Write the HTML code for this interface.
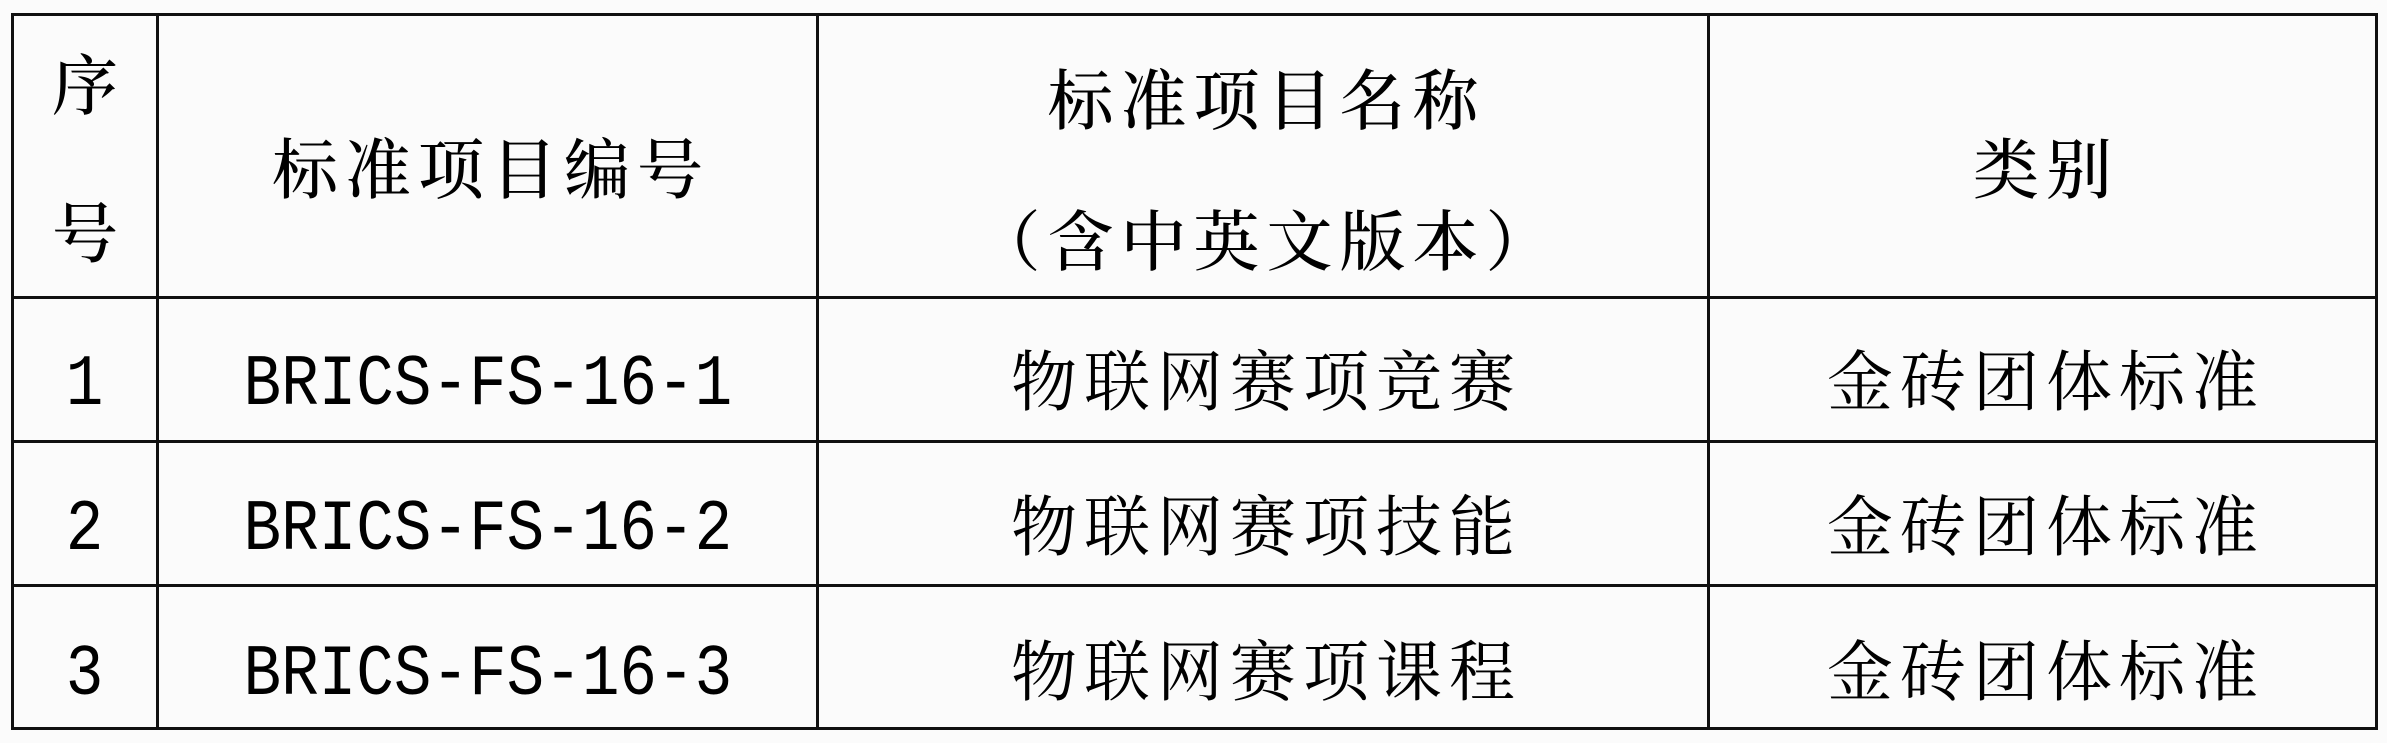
<!DOCTYPE html>
<html><head><meta charset="utf-8"><style>
body{margin:0;width:2387px;height:743px;background:#fbfbfb;position:relative;overflow:hidden}
.l{position:absolute;background:#111}
.t{position:absolute;text-align:center;white-space:nowrap;font-family:"Liberation Serif","Noto Serif CJK SC",serif;font-size:66px;letter-spacing:7px;line-height:70px;color:#000;padding-left:7px;box-sizing:border-box}
.h{font-weight:500}
.m span{display:inline-block;font-family:"Liberation Mono",monospace;font-size:72px;letter-spacing:0;transform:scale(0.87,1)}
</style></head><body>
<div class="l" style="left:11px;top:13px;width:2367px;height:3px"></div>
<div class="l" style="left:11px;top:296px;width:2367px;height:3px"></div>
<div class="l" style="left:11px;top:440px;width:2367px;height:3px"></div>
<div class="l" style="left:11px;top:584px;width:2367px;height:3px"></div>
<div class="l" style="left:11px;top:727px;width:2367px;height:3px"></div>
<div class="l" style="left:11px;top:13px;width:3px;height:717px"></div>
<div class="l" style="left:156px;top:13px;width:3px;height:717px"></div>
<div class="l" style="left:816px;top:13px;width:3px;height:717px"></div>
<div class="l" style="left:1707px;top:13px;width:3px;height:717px"></div>
<div class="l" style="left:2375px;top:13px;width:3px;height:717px"></div>

<div class="t h" style="left:14px;width:142px;top:53px;letter-spacing:0;padding:0">序</div>
<div class="t h" style="left:14px;width:142px;top:201px;letter-spacing:0;padding:0">号</div>
<div class="t h" style="left:159px;width:657px;top:137px">标准项目编号</div>
<div class="t h" style="left:819px;width:888px;top:68px">标准项目名称</div>
<div class="t h" style="left:819px;width:888px;top:209px">（含中英文版本）</div>
<div class="t h" style="left:1710px;width:665px;top:137px">类别</div>

<div class="t m" style="left:14px;width:142px;top:348px;padding:0"><span>1</span></div>
<div class="t m" style="left:159px;width:657px;top:348px;padding:0"><span>BRICS-FS-16-1</span></div>
<div class="t" style="left:819px;width:888px;top:349px">物联网赛项竞赛</div>
<div class="t" style="left:1710px;width:665px;top:349px">金砖团体标准</div>

<div class="t m" style="left:14px;width:142px;top:493px;padding:0"><span>2</span></div>
<div class="t m" style="left:159px;width:657px;top:493px;padding:0"><span>BRICS-FS-16-2</span></div>
<div class="t" style="left:819px;width:888px;top:494px">物联网赛项技能</div>
<div class="t" style="left:1710px;width:665px;top:494px">金砖团体标准</div>

<div class="t m" style="left:14px;width:142px;top:638px;padding:0"><span>3</span></div>
<div class="t m" style="left:159px;width:657px;top:638px;padding:0"><span>BRICS-FS-16-3</span></div>
<div class="t" style="left:819px;width:888px;top:639px">物联网赛项课程</div>
<div class="t" style="left:1710px;width:665px;top:639px">金砖团体标准</div>
</body></html>
